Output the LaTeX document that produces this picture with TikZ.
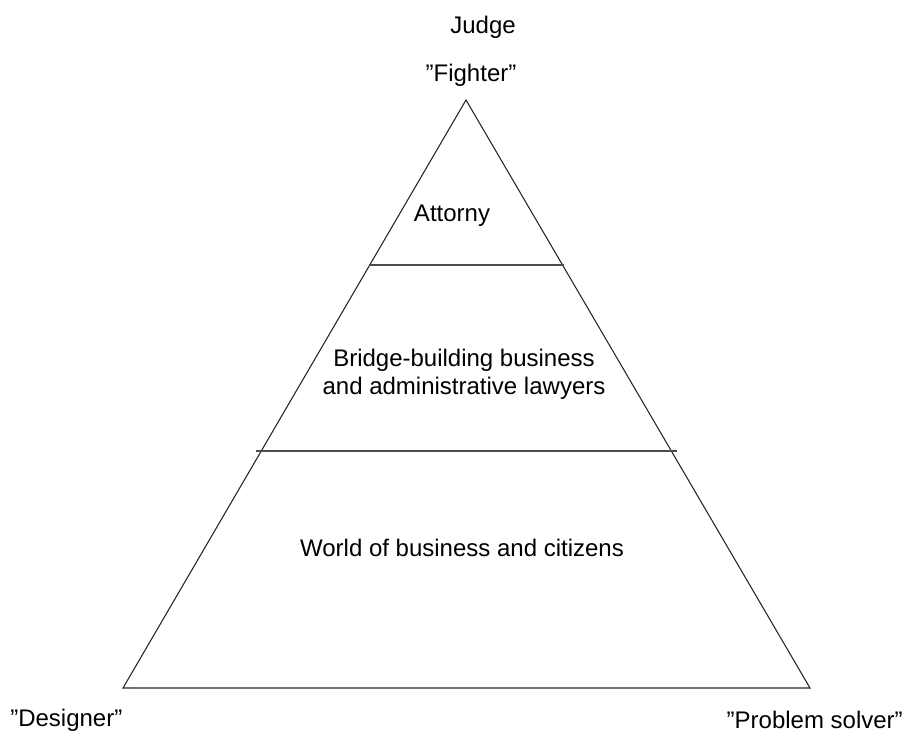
\documentclass[tikz,border=0pt]{standalone}
\usepackage{fontspec}
\setmainfont{Liberation Sans}
\usepackage{tikz}
\usetikzlibrary{positioning}
\usepackage{xcolor}

\begin{document}
\begin{tikzpicture}[
			x=0.75pt, y=-0.75pt,
			label/.style={font=\fontsize{18}{21}\selectfont, align=center, inner sep=0pt},
			edge/.style={line width=0.8pt, black!85},
			tier/.style={line width=1.1pt, black!70}
		]
		\useasboundingbox (0,0) rectangle (905,735);

		% corners of the pyramid
		\coordinate (top) at (466,100);
		\coordinate (bl) at (123,688);
		\coordinate (br) at (810,688);

		\draw[edge] (top) -- (bl) -- (br) -- cycle;

		% tier separators
		\coordinate (t1l) at (369,265);
		\coordinate (t1r) at (564,265);
		\coordinate (t2l) at (256,451);
		\coordinate (t2r) at (677,451);
		\draw[tier] (t1l) -- (t1r);
		\draw[tier] (t2l) -- (t2r);

		% labels
		\node[label] (judge) at (483,27) {Judge};
		\node[label] (fighter) at (471,75) {”Fighter”};
		\node[label] (attorny) at (452,216) {Attorny};
		\node[label] (bridge) at (464,374) {Bridge-building business\\and administrative lawyers};
		\node[label] (world) at (462,548) {World of business and citizens};
		\node[label, anchor=west] (designer) at (10,720) {"Designer"};
		\node[label, anchor=east] (solver) at (903,720) {"Problem solver”};
	\end{tikzpicture}
\end{document}
